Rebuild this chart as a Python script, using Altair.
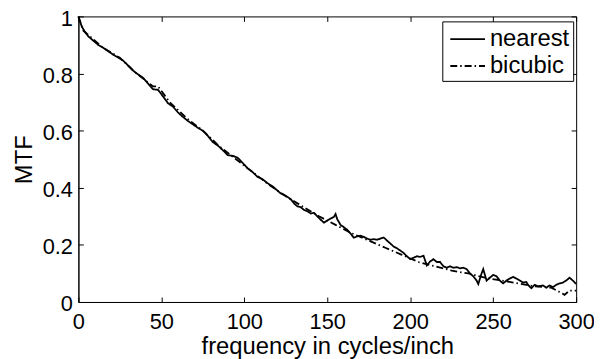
import altair as alt
import pandas as pd

near_f = [0, 2, 4, 6, 8, 10, 12, 15, 18, 21, 24, 27, 30, 33, 36, 39, 42, 45, 48, 51,
          54, 57, 60, 63, 66, 69, 72, 75, 78, 81, 84, 87, 90, 93, 96, 99, 102, 105, 108,
          111, 114, 117, 120, 122, 124, 126, 128, 130, 132, 134, 136, 138, 140, 142, 144,
          146, 148, 150, 152, 154, 155, 156, 158, 160, 162, 164, 166, 168, 170, 172, 174,
          176, 178, 180, 182, 184, 186, 188, 190, 192, 194, 196, 198, 200, 202, 204, 206,
          208, 210, 212, 214, 216, 218, 220, 222, 224, 226, 228, 230, 232, 234, 236, 238,
          240, 241, 243, 244, 246, 248, 250, 252, 254, 256, 258, 260, 262, 264, 266, 268,
          270, 271, 273, 275, 277, 280, 282, 284, 286, 288, 290, 292, 294, 296, 298, 300]
near_v = [1.0, 0.965, 0.945, 0.93, 0.92, 0.91, 0.9, 0.89, 0.878, 0.866, 0.856, 0.845,
          0.828, 0.81, 0.797, 0.785, 0.765, 0.745, 0.743, 0.72, 0.696, 0.684, 0.664,
          0.648, 0.634, 0.622, 0.61, 0.6, 0.582, 0.56, 0.548, 0.532, 0.514, 0.512, 0.505,
          0.487, 0.468, 0.455, 0.438, 0.43, 0.416, 0.405, 0.39, 0.38, 0.375, 0.368, 0.36,
          0.345, 0.335, 0.332, 0.322, 0.318, 0.31, 0.312, 0.3, 0.288, 0.278, 0.285, 0.292,
          0.298, 0.308, 0.29, 0.27, 0.262, 0.253, 0.24, 0.225, 0.23, 0.232, 0.228, 0.222,
          0.218, 0.22, 0.218, 0.222, 0.226, 0.215, 0.205, 0.194, 0.188, 0.18, 0.172, 0.16,
          0.15, 0.155, 0.16, 0.158, 0.162, 0.128, 0.142, 0.15, 0.14, 0.14, 0.125, 0.12,
          0.125, 0.12, 0.122, 0.118, 0.12, 0.115, 0.1, 0.09, 0.075, 0.063, 0.1, 0.115,
          0.075, 0.085, 0.095, 0.09, 0.075, 0.065, 0.075, 0.082, 0.088, 0.082, 0.075,
          0.068, 0.07, 0.06, 0.048, 0.06, 0.055, 0.058, 0.05, 0.058, 0.052, 0.06, 0.065,
          0.068, 0.075, 0.085, 0.075, 0.063]

bic_f = [0, 3, 8, 15, 25, 35, 45, 48, 55, 65, 75, 85, 95, 105, 115, 125, 135, 145, 155,
         165, 175, 185, 195, 205, 215, 225, 235, 245, 255, 265, 275, 285, 290, 293, 296, 300]
bic_v = [1.0, 0.95, 0.925, 0.89, 0.855, 0.8, 0.755, 0.755, 0.7, 0.645, 0.6, 0.545, 0.5,
         0.455, 0.41, 0.37, 0.335, 0.3, 0.27, 0.24, 0.215, 0.19, 0.165, 0.14, 0.125,
         0.11, 0.1, 0.085, 0.075, 0.065, 0.055, 0.05, 0.035, 0.025, 0.04, 0.04]

series = ["nearest", "bicubic"]

df = pd.concat([
    pd.DataFrame({"f": near_f, "v": near_v, "s": series[0], "o": range(len(near_f))}),
    pd.DataFrame({"f": bic_f, "v": bic_v, "s": series[1], "o": range(len(bic_f))}),
])

FONT = "Liberation Sans"

chart = alt.Chart(df).mark_line(color="black", strokeWidth=1.8).encode(
    x=alt.X("f:Q", scale=alt.Scale(domain=[0, 300], nice=False),
            axis=alt.Axis(values=[0, 50, 100, 150, 200, 250, 300], title="frequency in cycles/inch",
                          gridDash=[5, 278, 5, 1000])),
    y=alt.Y("v:Q", scale=alt.Scale(domain=[0, 1], nice=False),
            axis=alt.Axis(values=[0, 0.2, 0.4, 0.6, 0.8, 1.0], format=".1~f", title="MTF",
                          gridDash=[5, 492, 5, 1000])),
    order="o:Q",
    strokeDash=alt.StrokeDash("s:N", scale=alt.Scale(domain=series, range=[[1, 0], [7, 3, 1.5, 3]]),
                              legend=alt.Legend(title=None, orient="none", legendX=367, legendY=5,
                                                strokeColor="black", fillColor="white",
                                                padding=3, labelFontSize=24, labelFont=FONT,
                                                labelColor="black",
                                                symbolType="M-0.71,0H1.79", symbolSize=784,
                                                symbolStrokeWidth=1.8, symbolStrokeColor="black",
                                                labelOffset=15, rowPadding=0)),
).properties(
    width=502, height=288,
    autosize=alt.AutoSizeParams(type="none"),
    padding={"left": 71, "top": 7, "right": 18, "bottom": 56},
).configure_axis(
    domainColor="black", domainWidth=1, ticks=False, labelFlush=False,
    grid=True, gridColor="black", gridOpacity=1, gridWidth=1,
    labelFont=FONT, labelFontSize=22, labelColor="black",
    titleFont=FONT, titleFontSize=24, titleFontWeight="normal", titleColor="black",
).configure_axisX(
    labelPadding=10, titlePadding=2,
).configure_axisY(
    labelPadding=6, titlePadding=6, labelOffset=2,
).configure_view(stroke="black", strokeWidth=1)

chart.save("out.html", embed_options={"renderer": "svg", "actions": False})
